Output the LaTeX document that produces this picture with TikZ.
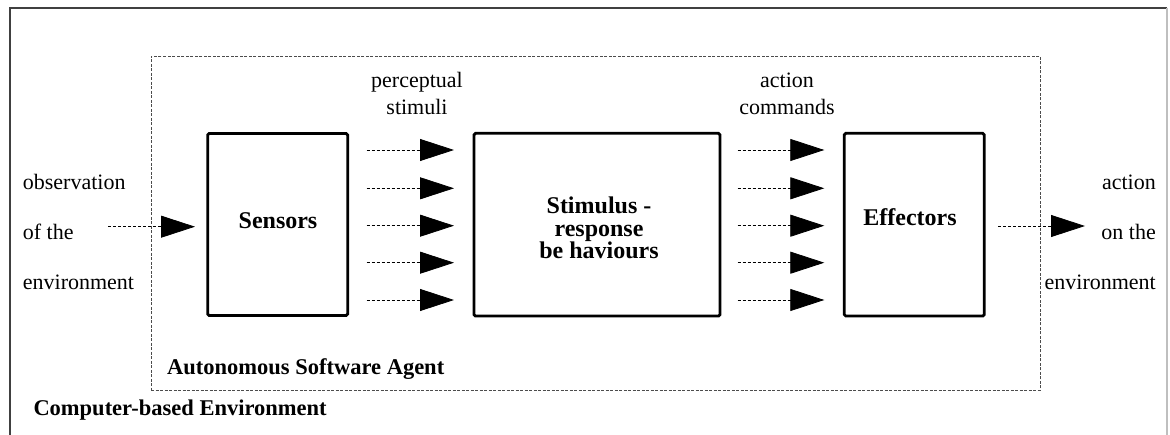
\documentclass[tikz,border=0pt]{standalone}
\usepackage{fontspec}
\setmainfont{Liberation Serif}
\usetikzlibrary{arrows.meta}

\begin{document}
\begin{tikzpicture}[x=1pt,y=-1pt,
  block/.style={draw=black, line width=2.8pt, rounded corners=1.5pt, inner sep=0pt, fill=white},
  frame/.style={draw=black!70, line width=0.8pt, dash pattern=on 3pt off 1.5pt, inner sep=0pt},
  flow/.style={draw=black, line width=0.8pt, dash pattern=on 3pt off 2pt,
    -{Triangle[length=34pt,width=22pt]}},
  txt/.style={font=\fontsize{22}{26}\selectfont, inner sep=0pt},
  boxlbl/.style={font=\fontsize{24}{22.5}\selectfont\bfseries, inner sep=0pt, align=center},
  arealbl/.style={font=\fontsize{22.5}{26}\selectfont\bfseries, inner sep=0pt}]

\useasboundingbox (0,0) rectangle (1170,435);
\clip (0,0) rectangle (1170,435);
\fill[white] (0,0) rectangle (1170,435);

% computer-based environment (outer frame, open at the bottom)
\draw[black!75, line width=1.2pt] (10,445) -- (10,8) -- (1167,8);
\draw[black!25, line width=1.2pt] (1167,8) -- (1167,445);

% autonomous software agent (dashed frame)
\node[frame, minimum width=889pt, minimum height=334pt] (agent) at (595.5,223.3) {};

% processing blocks
\node[block, minimum width=140pt, minimum height=182pt] (sensors) at (277.7,224.5) {};
\node[block, minimum width=246pt, minimum height=182.7pt] (sr) at (597,224.7) {};
\node[block, minimum width=140pt, minimum height=182.7pt] (effectors) at (914.3,224.7) {};

\node[boxlbl, anchor=base] (sensorsL) at (278,228.3) {Sensors};
\node[boxlbl, anchor=north] (srL) at (599,197) {Stimulus -\\response\\be haviours};
\node[boxlbl, anchor=base] (effectorsL) at (910,225.7) {Effectors};

% observation of the environment
\coordinate (obsA) at (108,226.7);
\coordinate (obsB) at (195,226.7);
\draw[flow] (obsA) -- (obsB);
\node[txt, anchor=base west] (obs1) at (22.7,189.3) {observation};
\node[txt, anchor=base west] (obs2) at (22.7,239.5) {of the};
\node[txt, anchor=base west] (obs3) at (22.7,290) {environment};

% perceptual stimuli and action commands
\foreach \i/\y in {1/150,2/188.3,3/225.7,4/262.7,5/300}{
  \coordinate (psA\i) at (366.7,\y);
  \coordinate (psB\i) at (454,\y);
  \draw[flow] (psA\i) -- (psB\i);
  \coordinate (acA\i) at (737.7,\y);
  \coordinate (acB\i) at (824.3,\y);
  \draw[flow] (acA\i) -- (acB\i);
}
\node[txt, anchor=base] (ps1) at (417,88) {perceptual};
\node[txt, anchor=base] (ps2) at (417,115) {stimuli};
\node[txt, anchor=base] (ac1) at (787,88) {action};
\node[txt, anchor=base] (ac2) at (787,115) {commands};

% action on the environment
\coordinate (actA) at (998.3,226);
\coordinate (actB) at (1085,226);
\draw[flow] (actA) -- (actB);
\node[txt, anchor=base east] (act1) at (1156,189.3) {action};
\node[txt, anchor=base east] (act2) at (1156,240) {on the};
\node[txt, anchor=base east] (act3) at (1156,290) {environment};

% area labels
\node[arealbl, anchor=base west] (agentL) at (167,375) {Autonomous Software Agent};
\node[arealbl, anchor=base west] (envL) at (33.3,415) {Computer-based Environment};
\end{tikzpicture}
\end{document}
